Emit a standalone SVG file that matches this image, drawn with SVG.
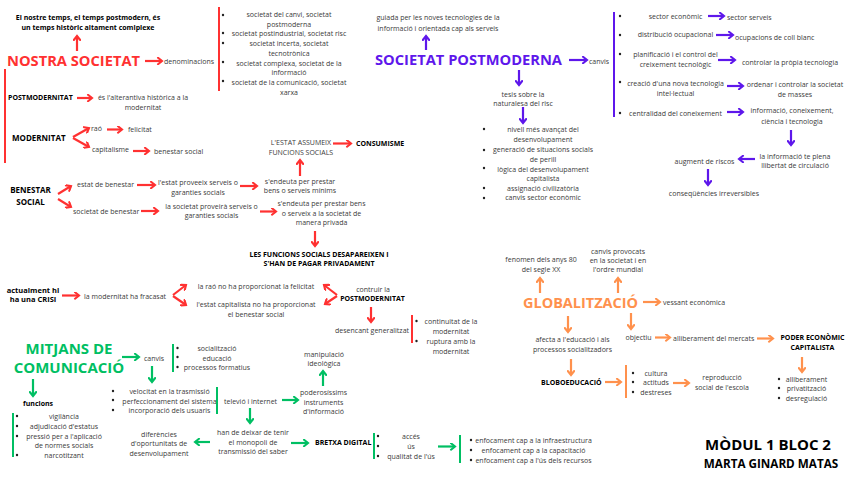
<svg xmlns="http://www.w3.org/2000/svg" width="848" height="477" viewBox="0 0 848 477">
<style>
text{font-family:"Open Sans","Liberation Sans",sans-serif;font-size:7px;fill:#3a3a3a}
.c{text-anchor:middle}
.b{font-weight:700;fill:#000}
.b8{font-weight:700;fill:#000;font-size:8px}
.h{font-weight:700;font-size:15px}
.hr{fill:#ff3131}.hp{fill:#5e17eb}.hg{fill:#00bf63}.ho{fill:#ff914d}
.ar{stroke:#ff3131;stroke-width:2.2;fill:none;marker-end:url(#mr)}
.ap{stroke:#5e17eb;stroke-width:2.2;fill:none;marker-end:url(#mp)}
.ag{stroke:#00bf63;stroke-width:2.2;fill:none;marker-end:url(#mg)}
.ao{stroke:#ff914d;stroke-width:2.2;fill:none;marker-end:url(#mo)}
.br{stroke:#ff3131;stroke-width:2}
.bp{stroke:#5e17eb;stroke-width:2}
.bg{stroke:#00bf63;stroke-width:2}
.bo{stroke:#ff914d;stroke-width:2}
.d{fill:#222}
</style>
<defs>
<marker id="mr" viewBox="0 0 10 10" refX="7.5" refY="5" markerWidth="8" markerHeight="8" markerUnits="userSpaceOnUse" orient="auto"><path d="M2.5,1 L7.5,5 L2.5,9" fill="none" stroke="#ff3131" stroke-width="2.6" stroke-linecap="round"/></marker>
<marker id="mp" viewBox="0 0 10 10" refX="7.5" refY="5" markerWidth="8" markerHeight="8" markerUnits="userSpaceOnUse" orient="auto"><path d="M2.5,1 L7.5,5 L2.5,9" fill="none" stroke="#5e17eb" stroke-width="2.6" stroke-linecap="round"/></marker>
<marker id="mg" viewBox="0 0 10 10" refX="7.5" refY="5" markerWidth="8" markerHeight="8" markerUnits="userSpaceOnUse" orient="auto"><path d="M2.5,1 L7.5,5 L2.5,9" fill="none" stroke="#00bf63" stroke-width="2.6" stroke-linecap="round"/></marker>
<marker id="mo" viewBox="0 0 10 10" refX="7.5" refY="5" markerWidth="8" markerHeight="8" markerUnits="userSpaceOnUse" orient="auto"><path d="M2.5,1 L7.5,5 L2.5,9" fill="none" stroke="#ff914d" stroke-width="2.6" stroke-linecap="round"/></marker>
</defs>
<rect width="848" height="477" fill="#fff"/>

<g id="connectors">
<path class="ar" d="M77,51 V36"/>
<path class="ar" d="M145,61 H162"/>
<path class="ar" d="M77,98 H92"/>
<path class="ar" d="M73,137 L89,128"/>
<path class="ar" d="M73,138 L89,147"/>
<path class="ar" d="M107,129.5 H122"/>
<path class="ar" d="M133,151 H149"/>
<path class="ar" d="M333,143.5 H351"/>
<path class="ar" d="M300,176 V160"/>
<path class="ar" d="M58,194 L71,186"/>
<path class="ar" d="M58,199 L71,207"/>
<path class="ar" d="M137,185 H155"/>
<path class="ar" d="M240,186 H257"/>
<path class="ar" d="M141,211 H158"/>
<path class="ar" d="M260,211.5 H276"/>
<path class="ar" d="M315,231 V246"/>
<path class="ar" d="M62,295.5 H79"/>
<path class="ar" d="M173,295 L186,285"/>
<path class="ar" d="M173,296 L186,305"/>
<path class="ar" d="M337,295 L324,285"/>
<path class="ar" d="M337,296 L325,304"/>
<path class="ar" d="M371,307 V322"/>
<path class="ap" d="M426,50 V36"/>
<path class="ap" d="M569,60 H587"/>
<path class="ap" d="M519,70 V85"/>
<path class="ap" d="M523,107 V123"/>
<path class="ap" d="M708,16 H724"/>
<path class="ap" d="M716,35 H733"/>
<path class="ap" d="M718,60 H735"/>
<path class="ap" d="M727,86 H743"/>
<path class="ap" d="M727,112 H743"/>
<path class="ap" d="M791,130 V145"/>
<path class="ap" d="M755,159 H739"/>
<path class="ap" d="M708,169 V185"/>
<path class="ag" d="M122,357 H139"/>
<path class="ag" d="M152,366 V382"/>
<path class="ag" d="M33,379 V396"/>
<path class="ag" d="M282,400 H298"/>
<path class="ag" d="M323,386 V371"/>
<path class="ag" d="M250,408 V423"/>
<path class="ag" d="M210,442 H195"/>
<path class="ag" d="M291,443 H308"/>
<path class="ag" d="M438,446.5 H455"/>
<path class="ao" d="M540,293 V278"/>
<path class="ao" d="M618,293 V278"/>
<path class="ao" d="M643,302 H660"/>
<path class="ao" d="M568,316 V332"/>
<path class="ao" d="M631,313 V329"/>
<path class="ao" d="M655,337.5 H670"/>
<path class="ao" d="M757,338.5 H773"/>
<path class="ao" d="M802,357 V372"/>
<path class="ao" d="M571,359 V375"/>
<path class="ao" d="M605,382 H621"/>
<path class="ao" d="M673,383 H689"/>
</g>

<g id="title-temps"><text class="c b" x="88" y="19.5">El nostre temps, el temps postmodern, és<tspan x="88" y="29.5">un temps històric altament comlplexe</tspan></text></g>
<g id="nostra-societat"><text class="h hr" x="7" y="66" textLength="133" lengthAdjust="spacingAndGlyphs">NOSTRA SOCIETAT</text></g>
<g id="denominacions"><text x="164" y="63.5">denominacions</text></g>
<g id="llista-denominacions">
<line class="br" x1="219" y1="7" x2="219" y2="91"/>
<circle class="d" cx="223" cy="15" r="1.2"/><circle class="d" cx="223" cy="33" r="1.2"/><circle class="d" cx="223" cy="43" r="1.2"/><circle class="d" cx="223" cy="62" r="1.2"/><circle class="d" cx="223" cy="81" r="1.2"/>
<text class="c" x="289" y="16.5">societat del canvi, societat<tspan x="289" y="26.5">postmoderna</tspan><tspan x="289" y="35.5">societat postindustrial, societat risc</tspan><tspan x="289" y="45.5">societat incerta, societat</tspan><tspan x="289" y="55.5">tecnotrònica</tspan><tspan x="289" y="65.5">societat complexa, societat de la</tspan><tspan x="289" y="74.5">informació</tspan><tspan x="289" y="84.5">societat de la comunicació, societat</tspan><tspan x="289" y="94.5">xarxa</tspan></text>
</g>
<g id="bar-esquerra"><line class="br" x1="5" y1="69" x2="5" y2="163"/></g>
<g id="postmodernitat"><text class="b" x="8" y="100">POSTMODERNITAT</text></g>
<g id="alternativa"><text class="c" x="143" y="99.5">és l'alterantiva històrica a la<tspan x="143" y="109.5">modernitat</tspan></text></g>
<g id="modernitat"><text class="b8" x="12" y="140.5">MODERNITAT</text></g>
<g id="rao"><text x="91" y="131">raó</text></g>
<g id="felicitat"><text x="128" y="132">felicitat</text></g>
<g id="capitalisme"><text x="92" y="151.5">capitalisme</text></g>
<g id="benestar-social-1"><text x="154" y="153.5">benestar social</text></g>
<g id="estat-assumeix"><text class="c" x="301" y="144.5">L'ESTAT ASSUMEIX<tspan x="301" y="154.5">FUNCIONS SOCIALS</tspan></text></g>
<g id="consumisme"><text class="b" x="356" y="146">CONSUMISME</text></g>
<g id="endeuta-minims"><text class="c" x="300" y="183.5">s'endeuta per prestar<tspan x="300" y="192.5">bens o serveis mínims</tspan></text></g>
<g id="benestar-social"><text class="c b8" x="30.5" y="193">BENESTAR<tspan x="30.5" y="205">SOCIAL</tspan></text></g>
<g id="estat-benestar"><text x="77" y="186.5">estat de benestar</text></g>
<g id="estat-proveeix"><text class="c" x="198" y="184.5">l'estat proveeix serveis o<tspan x="198" y="194.5">garanties socials</tspan></text></g>
<g id="societat-benestar"><text x="73" y="213.5">societat de benestar</text></g>
<g id="societat-proveira"><text class="c" x="211.5" y="208.5">la societat proveirà serveis o<tspan x="211.5" y="217.5">garanties socials</tspan></text></g>
<g id="endeuta-privada"><text class="c" x="321.5" y="205.5">s'endeuta per prestar bens<tspan x="321.5" y="215.5">o serveix a la societat de</tspan><tspan x="321.5" y="224.5">manera privada</tspan></text></g>
<g id="funcions-desapareixen"><text class="c b" x="319" y="256.5">LES FUNCIONS SOCIALS DESAPAREIXEN I<tspan x="319" y="265.5">S'HAN DE PAGAR PRIVADAMENT</tspan></text></g>
<g id="crisi"><text class="c b" x="33" y="292.5" style="font-size:7.5px">actualment hi<tspan x="33" y="301.5">ha una CRISI</tspan></text></g>
<g id="fracasat"><text x="84" y="298.5">la modernitat ha fracasat</text></g>
<g id="rao-no"><text class="c" x="256" y="288.5">la raó no ha proporcionat la felicitat</text></g>
<g id="estat-capitalista"><text class="c" x="256" y="306.5">l'estat capitalista no ha proporcionat<tspan x="256" y="316.5">el benestar social</tspan></text></g>
<g id="contruir"><text class="c" x="373" y="291.5">contruir la</text><text class="c b" x="372.5" y="300.5">POSTMODERNITAT</text></g>
<g id="desencant"><text x="335" y="332.5">desencant generalitzat</text></g>
<g id="continuitat">
<line class="br" x1="412" y1="315" x2="412" y2="343"/>
<circle class="d" cx="416.5" cy="321" r="1.2"/><circle class="d" cx="416.5" cy="341" r="1.2"/>
<text class="c" x="451" y="323.5">continuitat de la<tspan x="451" y="333.5">modernitat</tspan><tspan x="451" y="343.5">ruptura amb la</tspan><tspan x="451" y="353.5">modernitat</tspan></text>
</g>

<g id="societat-postmoderna"><text class="h hp" x="375" y="65" textLength="187" lengthAdjust="spacingAndGlyphs">SOCIETAT POSTMODERNA</text></g>
<g id="guiada"><text class="c" x="438" y="19.5">guiada per les noves tecnologies de la<tspan x="438" y="30.5">informació i orientada cap als serveis</tspan></text></g>
<g id="canvis-sp"><text x="589" y="63.5">canvis</text></g>
<g id="tesis"><text class="c" x="523" y="96.5">tesis sobre la<tspan x="523" y="105.5">naturalesa del risc</tspan></text></g>
<g id="llista-risc">
<circle class="d" cx="484" cy="129" r="1.2"/><circle class="d" cx="484" cy="150" r="1.2"/><circle class="d" cx="484" cy="168" r="1.2"/><circle class="d" cx="484" cy="188" r="1.2"/><circle class="d" cx="484" cy="198" r="1.2"/>
<text class="c" x="543" y="131.5">nivell més avançat del<tspan x="543" y="141.5">desenvolupament</tspan><tspan x="543" y="151.5">generació de situacions socials</tspan><tspan x="543" y="161.5">de perill</tspan><tspan x="543" y="171.5">lògica del desenvolupament</tspan><tspan x="543" y="180.5">capitalista</tspan><tspan x="543" y="190.5">assignació civilizatòria</tspan><tspan x="543" y="199.5">canvis sector econòmic</tspan></text>
</g>
<g id="llista-canvis">
<line class="bp" x1="614" y1="12" x2="614" y2="117"/>
<circle class="d" cx="620" cy="16" r="1.2"/><circle class="d" cx="620" cy="35" r="1.2"/><circle class="d" cx="620" cy="54" r="1.2"/><circle class="d" cx="620" cy="82" r="1.2"/><circle class="d" cx="620" cy="113" r="1.2"/>
<text class="c" x="675.5" y="18.5">sector econòmic<tspan x="675.5" y="36.5">distribució ocupacional</tspan><tspan x="675.5" y="56.5">planificació i el control del</tspan><tspan x="675.5" y="66.5">creixement tecnològic</tspan><tspan x="675.5" y="85.5">creació d'una nova tecnologia</tspan><tspan x="675.5" y="95.5">intel·lectual</tspan><tspan x="675.5" y="115.5">centralidad del coneixement</tspan></text>
</g>
<g id="sector-serveis"><text x="727" y="19.5">sector serveis</text></g>
<g id="coll-blanc"><text x="735" y="39.5">ocupacions de coll blanc</text></g>
<g id="controlar-tecnologia"><text x="742" y="64.5">controlar la pròpia tecnologia</text></g>
<g id="ordenar"><text class="c" x="795" y="86.5">ordenar i controlar la societat<tspan x="795" y="96.5">de masses</tspan></text></g>
<g id="informacio-coneixement"><text class="c" x="792" y="112.5">informació, coneixement,<tspan x="792" y="123.5">ciència i tecnologia</tspan></text></g>
<g id="llibertat"><text class="c" x="795" y="158.5">la informació te plena<tspan x="795" y="167.5">llibertat de circulació</tspan></text></g>
<g id="riscos"><text class="c" x="704.5" y="163.5">augment de riscos</text></g>
<g id="consequencies"><text class="c" x="714" y="195.5">conseqüències irreversibles</text></g>

<g id="mitjans"><text class="c h hg" x="69" y="353.5">MITJANS DE<tspan x="69" y="373">COMUNICACIÓ</tspan></text></g>
<g id="canvis-mc"><text x="144" y="360.5">canvis</text></g>
<g id="llista-socialitzacio">
<line class="bg" x1="173" y1="344" x2="173" y2="372"/>
<circle class="d" cx="177.5" cy="348" r="1.2"/><circle class="d" cx="177.5" cy="357" r="1.2"/><circle class="d" cx="177.5" cy="367" r="1.2"/>
<text class="c" x="217" y="350.5">socialització<tspan x="217" y="360.5">educació</tspan><tspan x="217" y="369.5">processos formatius</tspan></text>
</g>
<g id="funcions"><text class="b" x="23" y="405.5">funcions</text></g>
<g id="llista-funcions">
<line class="bg" x1="13" y1="413" x2="13" y2="457"/>
<circle class="d" cx="17" cy="416" r="1.2"/><circle class="d" cx="17" cy="426" r="1.2"/><circle class="d" cx="17" cy="436" r="1.2"/><circle class="d" cx="17" cy="455" r="1.2"/>
<text class="c" x="64" y="418.5">vigilància<tspan x="64" y="428.5">adjudicació d'estatus</tspan><tspan x="64" y="438.5">pressió per a l'aplicació</tspan><tspan x="64" y="447.5">de normes socials</tspan><tspan x="64" y="457.5">narcotitzant</tspan></text>
</g>
<g id="llista-velocitat">
<circle class="d" cx="113" cy="391" r="1.2"/><circle class="d" cx="113" cy="400" r="1.2"/><circle class="d" cx="113" cy="410" r="1.2"/>
<text class="c" x="169.5" y="393.5">velocitat en la trasmissió<tspan x="169.5" y="403.5">perfeccionament del sistema</tspan><tspan x="169.5" y="412.5">incorporació dels usuaris</tspan></text>
<line class="bg" x1="217" y1="387" x2="217" y2="414"/>
</g>
<g id="televio"><text x="224" y="403.5">televió i internet</text></g>
<g id="poderosissims"><text class="c" x="323.5" y="394.5">poderosíssims<tspan x="323.5" y="404.5">instruments</tspan><tspan x="323.5" y="413.5">d'informació</tspan></text></g>
<g id="manipulacio"><text class="c" x="324" y="356.5">manipulació<tspan x="324" y="365.5">ideològica</tspan></text></g>
<g id="monopoli"><text class="c" x="253" y="434.5">han de deixar de tenir<tspan x="253" y="444.5">el monopoli de</tspan><tspan x="253" y="453.5">transmissió del saber</tspan></text></g>
<g id="diferencies"><text class="c" x="159" y="436.5">diferències<tspan x="159" y="445.5">d'oportunitats de</tspan><tspan x="159" y="455.5">desenvolupament</tspan></text></g>
<g id="bretxa"><text class="b" x="315" y="444.5">BRETXA DIGITAL</text></g>
<g id="llista-acces">
<line class="bg" x1="374" y1="433" x2="374" y2="459"/>
<circle class="d" cx="378" cy="436" r="1.2"/><circle class="d" cx="378" cy="446" r="1.2"/><circle class="d" cx="378" cy="456" r="1.2"/>
<text class="c" x="411" y="438.5">accés<tspan x="411" y="448.5">ús</tspan><tspan x="411" y="458.5">qualitat de l'ús</tspan></text>
</g>
<g id="llista-enfocament">
<line class="bg" x1="460" y1="435" x2="460" y2="463"/>
<circle class="d" cx="471" cy="440" r="1.2"/><circle class="d" cx="471" cy="450" r="1.2"/><circle class="d" cx="471" cy="460" r="1.2"/>
<text class="c" x="533.5" y="442.5">enfocament cap a la infraestructura<tspan x="533.5" y="452.5">enfocament cap a la capacitació</tspan><tspan x="533.5" y="462.5">enfocament cap a l'ús dels recursos</tspan></text>
</g>

<g id="globalitzacio"><text class="h ho" x="523" y="308" textLength="115" lengthAdjust="spacingAndGlyphs">GLOBALITZACIÓ</text></g>
<g id="fenomen"><text class="c" x="541" y="261.5">fenomen dels anys 80<tspan x="541" y="271.5">del segle XX</tspan></text></g>
<g id="canvis-provocats"><text class="c" x="618" y="253.5">canvis provocats<tspan x="618" y="262.5">en la societat i en</tspan><tspan x="618" y="271.5">l'ordre mundial</tspan></text></g>
<g id="vessant"><text x="663" y="304.5">vessant econòmica</text></g>
<g id="afecta"><text class="c" x="572.5" y="341.5">afecta a l'educació i als<tspan x="572.5" y="351.5">processos socialitzadors</tspan></text></g>
<g id="objectiu"><text class="c" x="638.5" y="339.5">objectiu</text></g>
<g id="alliberament-mercats"><text x="673" y="340.5">alliberament del mercats</text></g>
<g id="poder"><text class="c b" x="812.5" y="339.5">PODER ECONÒMIC<tspan x="812.5" y="349.5">CAPITALISTA</tspan></text></g>
<g id="llista-poder">
<circle class="d" cx="779" cy="379" r="1.2"/><circle class="d" cx="779" cy="388" r="1.2"/><circle class="d" cx="779" cy="398" r="1.2"/>
<text class="c" x="806.5" y="381.5">alliberament<tspan x="806.5" y="390.5">privatització</tspan><tspan x="806.5" y="400.5">desregulació</tspan></text>
</g>
<g id="globoeducacio"><text class="b" x="541" y="384.5">BLOBOEDUCACIÓ</text></g>
<g id="llista-cultura">
<line class="bo" x1="626" y1="365" x2="626" y2="398"/>
<circle class="d" cx="633" cy="373" r="1.2"/><circle class="d" cx="633" cy="382" r="1.2"/><circle class="d" cx="633" cy="392" r="1.2"/>
<text class="c" x="656" y="375.5">cultura<tspan x="656" y="384.5">actituds</tspan><tspan x="656" y="394.5">destreses</tspan></text>
</g>
<g id="reproduccio"><text class="c" x="722" y="379.5">reproducció<tspan x="722" y="389.5">social de l'escola</tspan></text></g>

<g id="autor"><text class="c b" x="768" y="450" style="font-size:15px">MÒDUL 1 BLOC 2</text><text class="c b" x="771" y="468" style="font-size:11.7px">MARTA GINARD MATAS</text></g>
</svg>
